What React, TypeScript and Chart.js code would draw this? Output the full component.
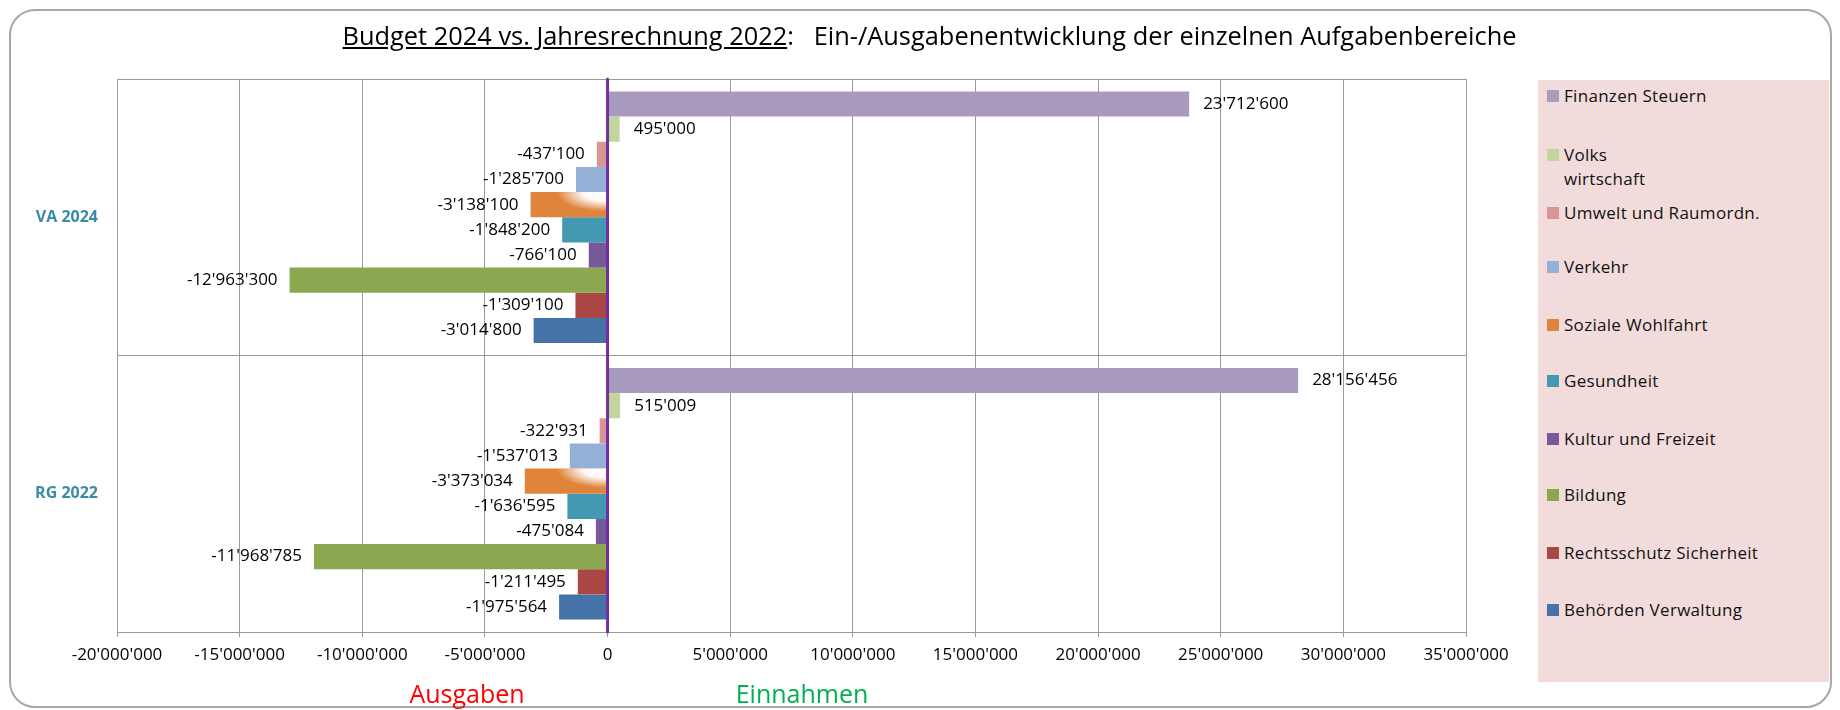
import React, { useEffect, useRef } from 'react';
import { Chart, registerables } from 'chart.js';

Chart.register(...registerables);

// ---------- data ----------
const categories = ['VA 2024', 'RG 2022'];

const seriesNames = [
  'Finanzen Steuern',
  'Volks\nwirtschaft',
  'Umwelt und Raumordn.',
  'Verkehr',
  'Soziale Wohlfahrt',
  'Gesundheit',
  'Kultur und Freizeit',
  'Bildung',
  'Rechtsschutz Sicherheit',
  'Behörden Verwaltung',
];

const seriesColors = [
  '#A99BBE',
  '#C0D69C',
  '#D99694',
  '#95B0D6',
  '#E0843B',
  '#4399B1',
  '#76589B',
  '#8BA74F',
  '#AA4744',
  '#4572A7',
];

const finanzenSteuern = [23712600, 28156456];
const volkswirtschaft = [495000, 515009];
const umweltRaumordnung = [-437100, -322931];
const verkehr = [-1285700, -1537013];
const sozialeWohlfahrt = [-3138100, -3373034];
const gesundheit = [-1848200, -1636595];
const kulturFreizeit = [-766100, -475084];
const bildung = [-12963300, -11968785];
const rechtsschutzSicherheit = [-1309100, -1211495];
const behoerdenVerwaltung = [-3014800, -1975564];

const seriesValues = [
  finanzenSteuern,
  volkswirtschaft,
  umweltRaumordnung,
  verkehr,
  sozialeWohlfahrt,
  gesundheit,
  kulturFreizeit,
  bildung,
  rechtsschutzSicherheit,
  behoerdenVerwaltung,
];

const xMin = -20000000;
const xMax = 35000000;
const xStep = 5000000;

const titleUnderlined = 'Budget 2024 vs. Jahresrechnung 2022';
const titleRest = ':   Ein-/Ausgabenentwicklung der einzelnen Aufgabenbereiche';
const leftCaption = 'Ausgaben';
const rightCaption = 'Einnahmen';

// ---------- helpers ----------
const FONT = "'Open Sans', 'Noto Sans', sans-serif";

function fmt(v: number): string {
  const s = Math.round(Math.abs(v)).toString().replace(/\B(?=(\d{3})+(?!\d))/g, "'");
  return (v < 0 ? '-' : '') + s;
}

// legend item vertical centres (layout only)
const legendCenters = [96, 155, 213, 267, 325, 381, 439, 495, 553, 610];

export default function App() {
  const canvasRef = useRef<HTMLCanvasElement>(null);

  useEffect(() => {
    const canvas = canvasRef.current;
    if (!canvas) return;
    const ctx = canvas.getContext('2d');
    if (!ctx) return;

    const overlayPlugin = {
      id: 'overlay',
      afterDatasetsDraw(chart: any) {
        const c = chart.ctx;
        const area = chart.chartArea;

        // white sheen on the orange bars
        const metaO = chart.getDatasetMeta(4);
        metaO.data.forEach((el: any) => {
          const p = el.getProps(['x', 'y', 'base', 'height'], true);
          const left = Math.min(p.x, p.base);
          const right = Math.max(p.x, p.base);
          const top = p.y - p.height / 2;
          const bottom = p.y + p.height / 2;
          c.save();
          c.beginPath();
          c.rect(left, top, right - left, bottom - top);
          c.clip();
          c.translate(right - 2, top + 1);
          c.scale(1, 0.38);
          const g = c.createRadialGradient(0, 0, 0, 0, 0, 48);
          g.addColorStop(0, 'rgba(255,255,255,1)');
          g.addColorStop(0.45, 'rgba(255,255,255,0.95)');
          g.addColorStop(1, 'rgba(255,255,255,0)');
          c.fillStyle = g;
          c.fillRect(-200, -200, 400, 400);
          c.restore();
        });

        // purple zero line
        const zx = chart.scales.x.getPixelForValue(0);
        c.save();
        c.strokeStyle = '#7030A0';
        c.lineWidth = 3;
        c.lineCap = 'round';
        c.beginPath();
        c.moveTo(zx, area.top);
        c.lineTo(zx, area.bottom);
        c.stroke();
        c.restore();

        // value labels
        c.save();
        c.font = `17px ${FONT}`;
        c.fillStyle = '#000';
        c.textBaseline = 'middle';
        chart.data.datasets.forEach((ds: any, di: number) => {
          const meta = chart.getDatasetMeta(di);
          meta.data.forEach((el: any, i: number) => {
            const v = ds.data[i] as number;
            const p = el.getProps(['x', 'y'], true);
            if (v >= 0) {
              c.textAlign = 'left';
              c.fillText(fmt(v), p.x + 14, p.y);
            } else {
              c.textAlign = 'right';
              c.fillText(fmt(v), p.x - 12, p.y);
            }
          });
        });
        c.restore();
      },
    };

    const chart = new Chart(ctx, {
      type: 'bar',
      data: {
        labels: categories,
        datasets: seriesNames.map((name, i) => ({
          label: name.replace('\n', ' '),
          data: seriesValues[i],
          backgroundColor: seriesColors[i],
          borderWidth: 0,
          categoryPercentage: 0.91,
          barPercentage: 1,
        })),
      },
      options: {
        indexAxis: 'y',
        responsive: false,
        maintainAspectRatio: false,
        animation: false,
        layout: { padding: { left: 0, right: 374, top: 79, bottom: 0 } },
        plugins: {
          legend: { display: false },
          tooltip: { enabled: false },
          title: { display: false },
        },
        scales: {
          x: {
            type: 'linear',
            min: xMin,
            max: xMax,
            ticks: {
              stepSize: xStep,
              autoSkip: false,
              maxRotation: 0,
              color: '#000',
              padding: 8,
              font: { family: FONT, size: 17 },
              callback: (v: any) => fmt(Number(v)),
            },
            grid: { color: '#9a9a9a', lineWidth: 1, tickLength: 5, drawTicks: true },
            border: { color: '#9a9a9a', width: 1 },
            afterFit: (s: any) => {
              s.height = 78;
            },
          },
          y: {
            type: 'category',
            ticks: {
              color: '#3A8CA4',
              padding: 19,
              font: { family: FONT, size: 16, weight: 'bold' },
            },
            grid: { color: '#9a9a9a', lineWidth: 1, drawTicks: false, offset: true },
            border: { color: '#9a9a9a', width: 1 },
            afterFit: (s: any) => {
              s.width = 117;
            },
          },
        },
      } as any,
      plugins: [overlayPlugin],
    });

    return () => {
      chart.destroy();
    };
  }, []);

  return (
    <div
      style={{
        position: 'fixed',
        left: 0,
        top: 0,
        width: 1840,
        height: 710,
        background: '#fff',
        overflow: 'hidden',
        fontFamily: FONT,
      }}
    >
      <div
        style={{
          position: 'absolute',
          left: 9,
          top: 9,
          width: 1823,
          height: 699,
          boxSizing: 'border-box',
          border: '2px solid #A8A8A8',
          borderRadius: 26,
        }}
      />
      <div
        style={{
          position: 'absolute',
          left: 1538,
          top: 80,
          width: 291,
          height: 602,
          background: '#F2DCDB',
        }}
      />
      {seriesNames.map((name, i) => (
        <div
          key={name}
          style={{
            position: 'absolute',
            left: 1547,
            top: legendCenters[i] - 12,
            display: 'flex',
            alignItems: 'flex-start',
            fontSize: 17,
            lineHeight: '24px',
            letterSpacing: 0.3,
            color: '#111',
          }}
        >
          <span
            style={{
              display: 'inline-block',
              width: 12,
              height: 12,
              marginTop: 6,
              marginRight: 5,
              background: seriesColors[i],
            }}
          />
          <span style={{ whiteSpace: 'pre-line' }}>{name}</span>
        </div>
      ))}
      <canvas
        ref={canvasRef}
        width={1840}
        height={710}
        style={{ position: 'absolute', left: 0, top: 0, width: 1840, height: 710 }}
      />
      <div
        style={{
          position: 'absolute',
          left: 929.5,
          top: 35,
          transform: 'translate(-50%, -50%)',
          whiteSpace: 'pre',
          fontSize: 25.4,
          color: '#000',
        }}
      >
        <span style={{ textDecoration: 'underline' }}>{titleUnderlined}</span>
        <span>{titleRest}</span>
      </div>
      <div
        style={{
          position: 'absolute',
          left: 467,
          top: 693,
          transform: 'translate(-50%, -50%)',
          fontSize: 25,
          color: '#FF0000',
          whiteSpace: 'pre',
        }}
      >
        {leftCaption}
      </div>
      <div
        style={{
          position: 'absolute',
          left: 802,
          top: 693,
          transform: 'translate(-50%, -50%)',
          fontSize: 25,
          color: '#00B050',
          whiteSpace: 'pre',
        }}
      >
        {rightCaption}
      </div>
    </div>
  );
}
